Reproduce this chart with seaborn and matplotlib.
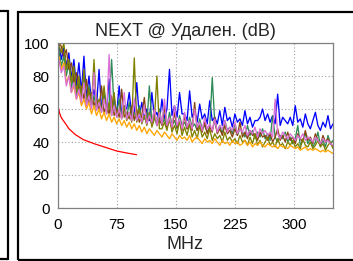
import numpy as np
import pandas as pd
import matplotlib
matplotlib.use("Agg")
import matplotlib.pyplot as plt
from matplotlib.patches import Rectangle
from matplotlib.lines import Line2D
import seaborn as sns

# NEXT measurement traces (dB), evenly sampled from 1 to 350 MHz
pair_names = ["blue", "green", "brown", "olive", "orange", "orchid"]
pair_colors = ["#0000ff", "#2e8b57", "#8b4513", "#808000", "#ffa500", "#da70d6"]

blue_db = [100, 90, 97, 86, 94, 78, 90, 74, 88, 70,
           92, 66, 80, 64, 72, 62, 84, 60, 70, 59,
           78, 58, 66, 57, 74, 56, 62, 60, 70, 56,
           58, 76, 55, 64, 54, 60, 53, 70, 55, 58,
           52, 66, 54, 60, 84, 56, 62, 55, 70, 57,
           57, 53, 71, 55, 59, 52, 63, 54, 57, 51,
           65, 53, 55, 51, 59, 50, 61, 53, 55, 49,
           57, 52, 54, 50, 59, 51, 55, 49, 53, 53,
           55, 60, 53, 57, 52, 56, 51, 69, 50, 55,
           53, 51, 55, 50, 62, 52, 54, 49, 57, 51,
           48, 53, 58, 50, 47, 52, 49, 56, 48, 51]
green_db = [96, 86, 92, 80, 88, 72, 82, 68, 76, 66,
            80, 63, 74, 62, 68, 60, 64, 59, 72, 58,
            62, 90, 60, 57, 66, 56, 60, 55, 64, 54,
            58, 53, 62, 52, 56, 51, 74, 52, 55, 50,
            60, 51, 54, 49, 58, 50, 53, 48, 56, 50,
            52, 48, 55, 49, 51, 47, 54, 48, 50, 46,
            49, 79, 52, 46, 50, 45, 53, 47, 49, 45,
            51, 44, 48, 46, 43, 50, 44, 47, 42, 46,
            43, 48, 42, 45, 41, 56, 43, 40, 44, 42,
            46, 40, 43, 39, 42, 50, 38, 41, 45, 39,
            42, 37, 40, 46, 38, 41, 37, 44, 39, 41]
brown_db = [100, 98, 92, 96, 84, 88, 76, 82, 70, 74,
            66, 78, 64, 70, 62, 66, 60, 74, 58, 62,
            57, 68, 56, 60, 55, 72, 55, 58, 54, 62,
            53, 60, 52, 56, 67, 52, 55, 51, 60, 50,
            54, 50, 62, 49, 53, 48, 58, 49, 52, 47,
            56, 48, 51, 47, 64, 47, 50, 46, 52, 45,
            49, 46, 55, 45, 48, 44, 50, 45, 47, 43,
            48, 44, 52, 43, 46, 42, 47, 44, 45, 41,
            46, 43, 44, 41, 45, 40, 43, 48, 41, 44,
            40, 46, 41, 43, 39, 45, 42, 40, 47, 41,
            43, 39, 45, 41, 38, 44, 40, 42, 39, 37]
olive_db = [99, 94, 100, 84, 90, 76, 86, 70, 80, 66,
            84, 63, 72, 61, 90, 60, 66, 58, 74, 57,
            64, 56, 70, 55, 60, 54, 62, 53, 58, 52,
            91, 52, 60, 51, 56, 50, 58, 49, 54, 80,
            48, 48, 52, 47, 55, 46, 50, 45, 53, 44,
            49, 44, 51, 43, 47, 42, 50, 43, 46, 42,
            48, 41, 45, 42, 44, 40, 46, 41, 43, 40,
            42, 39, 44, 40, 41, 38, 43, 39, 45, 38,
            41, 37, 40, 43, 38, 40, 37, 42, 38, 39,
            36, 40, 38, 41, 37, 39, 36, 42, 38, 37,
            40, 36, 38, 41, 37, 39, 35, 38, 40, 36]
orange_db = [92, 84, 88, 76, 80, 70, 74, 66, 70, 62,
             66, 60, 64, 57, 62, 56, 60, 54, 58, 53,
             57, 52, 55, 51, 54, 50, 53, 49, 52, 48,
             51, 47, 50, 46, 49, 45, 48, 46, 44, 47,
             45, 43, 46, 44, 42, 45, 43, 41, 44, 42,
             43, 41, 44, 40, 42, 43, 41, 39, 42, 40,
             41, 39, 42, 40, 38, 41, 39, 40, 38, 41,
             39, 40, 38, 39, 41, 38, 40, 37, 39, 38,
             40, 38, 37, 39, 38, 37, 38, 36, 38, 37,
             37, 36, 38, 37, 36, 37, 35, 36, 37, 35,
             36, 35, 36, 35, 34, 35, 34, 35, 34, 33]
orchid_db = [90, 82, 86, 74, 80, 70, 76, 66, 72, 64,
             76, 62, 68, 60, 82, 59, 64, 58, 66, 57,
             93, 56, 62, 55, 60, 54, 70, 54, 58, 53,
             66, 53, 57, 52, 62, 51, 56, 52, 60, 50,
             58, 51, 66, 50, 55, 49, 62, 50, 54, 48,
             58, 49, 53, 48, 60, 49, 52, 47, 55, 48,
             51, 47, 54, 46, 50, 48, 53, 46, 49, 47,
             52, 45, 48, 46, 50, 44, 47, 45, 49, 43,
             48, 45, 47, 44, 46, 43, 66, 45, 42, 46,
             44, 42, 45, 43, 41, 44, 42, 45, 41, 43,
             42, 40, 43, 41, 39, 42, 40, 41, 39, 38]

# limit line
limit_mhz = [1, 2, 4, 6, 9, 14, 22, 32, 47, 62, 75, 88, 100]
limit_db = [60, 57.5, 55, 53.5, 51.5, 48, 44.5, 41.5, 38.8, 36.5, 34.5, 33.3, 32.3]

x_ticks = [0, 75, 150, 225, 300]
y_ticks = [0, 20, 40, 60, 80, 100]

sns.set_theme(style="white")
plt.rcParams["font.family"] = ["Liberation Sans", "DejaVu Sans"]

series = [blue_db, green_db, brown_db, olive_db, orange_db, orchid_db]
frames = []
for name, vals in zip(pair_names, series):
    frames.append(pd.DataFrame({"MHz": np.linspace(1, 350, len(vals)),
                                "dB": vals, "pair": name}))
df = pd.concat(frames, ignore_index=True)

fig = plt.figure(figsize=(3.53, 2.61), dpi=100)
ax = fig.add_axes([58 / 353, 53 / 261, 275 / 353, 165 / 261])

sns.lineplot(data=df, x="MHz", y="dB", hue="pair", palette=pair_colors,
             estimator=None, sort=False, lw=0.95, legend=False, ax=ax)
sns.lineplot(x=limit_mhz, y=limit_db, color="red", lw=0.9, estimator=None, ax=ax)

ax.set_xlim(0, 350)
ax.set_ylim(0, 100)
ax.set_xticks(x_ticks)
ax.set_yticks(y_ticks)
ax.tick_params(length=0, labelsize=11, colors="black")
ax.tick_params(axis="y", pad=6)
ax.tick_params(axis="x", pad=7)
ax.grid(True, linestyle=(0, (1, 2)), color="#a0a0a0", lw=0.8)
for sp in ax.spines.values():
    sp.set_color("#808080")
    sp.set_linewidth(0.9)

# title and axis label are centred on the whole panel, not on the axes
ax.set_xlabel("MHz", fontsize=13, labelpad=3)
ax.xaxis.label.set_x(0.462)
ax.set_ylabel("")
ax.set_title("NEXT @ Удален. (dB)", fontsize=13, pad=5, x=0.462)

# panel borders
fig.add_artist(Rectangle((17.5 / 353, 1.5 / 261), 340 / 353, 248 / 261,
                         transform=fig.transFigure, fill=False,
                         edgecolor="black", lw=1.6))
fig.add_artist(Line2D([7.5 / 353, 7.5 / 353], [2 / 261, 250 / 261],
                      transform=fig.transFigure, color="black", lw=1.6))
fig.add_artist(Line2D([0, 7.5 / 353], [250 / 261, 250 / 261],
                      transform=fig.transFigure, color="black", lw=1.6))
fig.add_artist(Line2D([0, 7.5 / 353], [2 / 261, 2 / 261],
                      transform=fig.transFigure, color="black", lw=1.6))

fig.savefig("out.png", dpi=100)
